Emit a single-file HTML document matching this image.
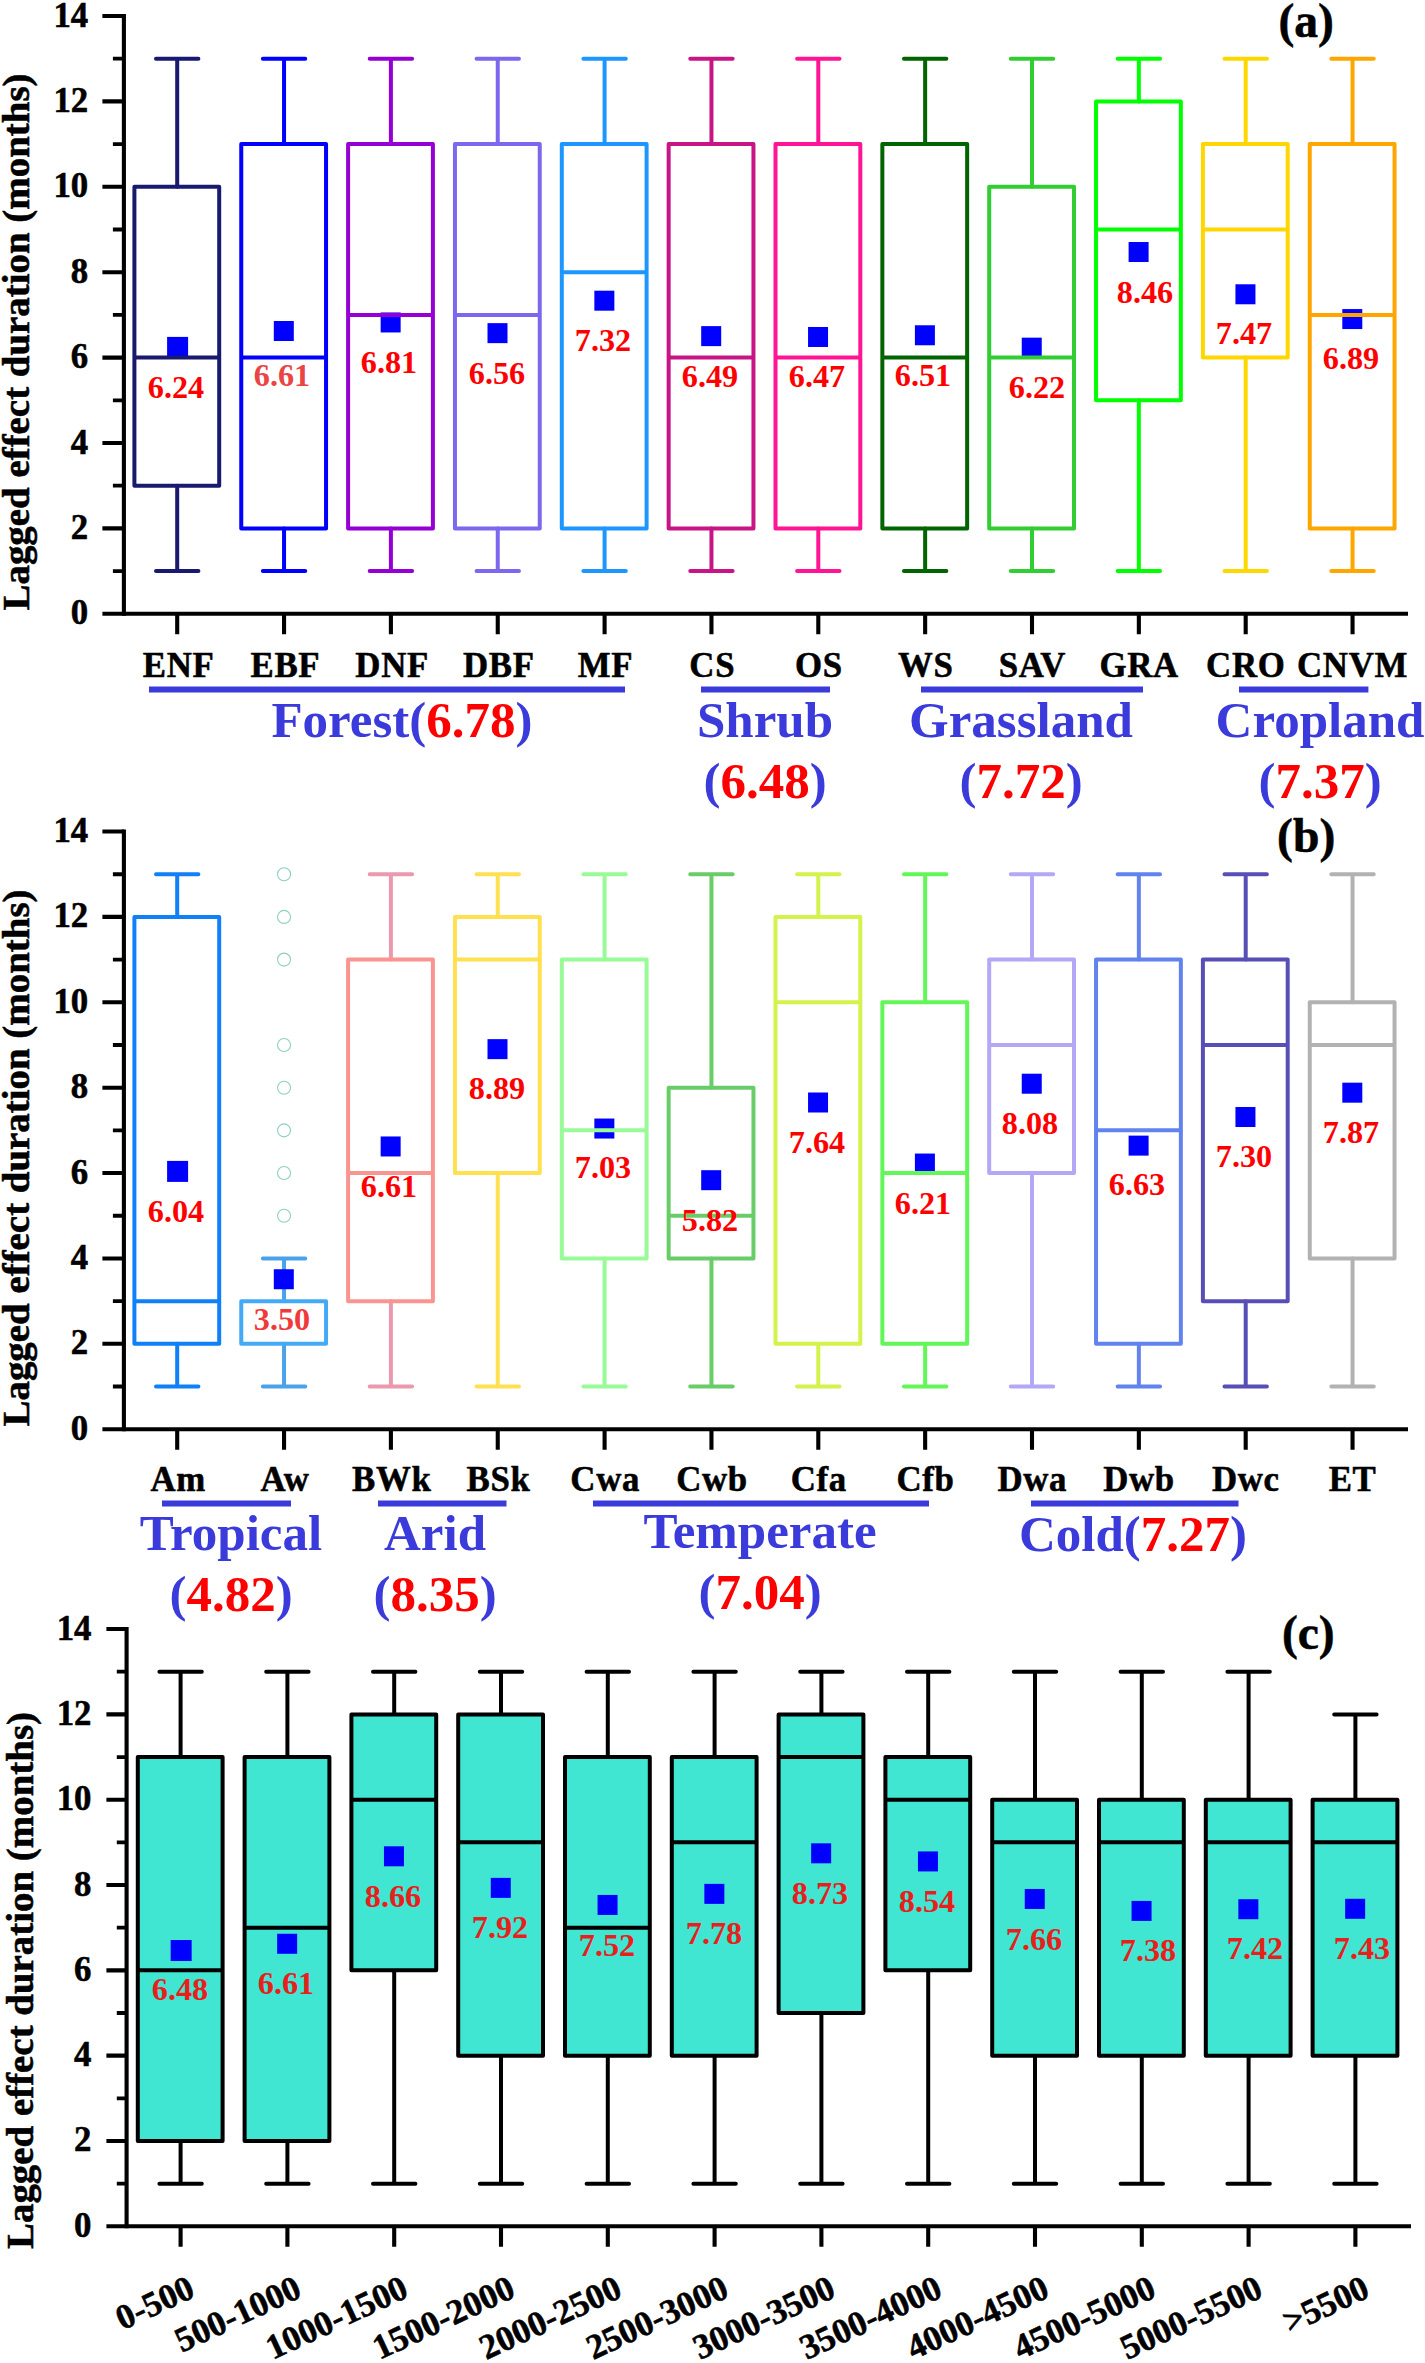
<!DOCTYPE html>
<html lang="en">
<head>
<meta charset="utf-8">
<title>Lagged effect duration</title>
<style>
html,body{margin:0;padding:0;background:#fff;}
body{width:1425px;height:2363px;overflow:hidden;}
svg{display:block;}
svg text{stroke-width:0.55px;stroke-linejoin:round;paint-order:stroke fill;}
</style>
</head>
<body>
<svg width="1425" height="2363" viewBox="0 0 1425 2363" font-family='"Liberation Serif", serif' font-weight="bold">
<rect width="1425" height="2363" fill="#fff"/>
<g stroke="#191970" stroke-width="4" fill="none" stroke-linecap="round" stroke-linejoin="round">
<path d="M177.2 58.7 V186.8 M177.2 485.7 V571.1 M156 58.7 H198.4 M156 571.1 H198.4"/>
<rect x="134.4" y="186.8" width="84.8" height="298.9" fill="none"/>
</g>
<g stroke="#0000ff" stroke-width="4" fill="none" stroke-linecap="round" stroke-linejoin="round">
<path d="M284.05 58.7 V144.1 M284.05 528.4 V571.1 M262.85 58.7 H305.25 M262.85 571.1 H305.25"/>
<rect x="241.25" y="144.1" width="84.8" height="384.3" fill="none"/>
</g>
<g stroke="#9400d3" stroke-width="4" fill="none" stroke-linecap="round" stroke-linejoin="round">
<path d="M390.9 58.7 V144.1 M390.9 528.4 V571.1 M369.7 58.7 H412.1 M369.7 571.1 H412.1"/>
<rect x="348.1" y="144.1" width="84.8" height="384.3" fill="none"/>
</g>
<g stroke="#7b68ee" stroke-width="4" fill="none" stroke-linecap="round" stroke-linejoin="round">
<path d="M497.75 58.7 V144.1 M497.75 528.4 V571.1 M476.55 58.7 H518.95 M476.55 571.1 H518.95"/>
<rect x="454.95" y="144.1" width="84.8" height="384.3" fill="none"/>
</g>
<g stroke="#1e96ff" stroke-width="4" fill="none" stroke-linecap="round" stroke-linejoin="round">
<path d="M604.6 58.7 V144.1 M604.6 528.4 V571.1 M583.4 58.7 H625.8 M583.4 571.1 H625.8"/>
<rect x="561.8" y="144.1" width="84.8" height="384.3" fill="none"/>
</g>
<g stroke="#c71585" stroke-width="4" fill="none" stroke-linecap="round" stroke-linejoin="round">
<path d="M711.45 58.7 V144.1 M711.45 528.4 V571.1 M690.25 58.7 H732.65 M690.25 571.1 H732.65"/>
<rect x="668.65" y="144.1" width="84.8" height="384.3" fill="none"/>
</g>
<g stroke="#ff1493" stroke-width="4" fill="none" stroke-linecap="round" stroke-linejoin="round">
<path d="M818.3 58.7 V144.1 M818.3 528.4 V571.1 M797.1 58.7 H839.5 M797.1 571.1 H839.5"/>
<rect x="775.5" y="144.1" width="84.8" height="384.3" fill="none"/>
</g>
<g stroke="#006400" stroke-width="4" fill="none" stroke-linecap="round" stroke-linejoin="round">
<path d="M925.15 58.7 V144.1 M925.15 528.4 V571.1 M903.95 58.7 H946.35 M903.95 571.1 H946.35"/>
<rect x="882.35" y="144.1" width="84.8" height="384.3" fill="none"/>
</g>
<g stroke="#32cd32" stroke-width="4" fill="none" stroke-linecap="round" stroke-linejoin="round">
<path d="M1032 58.7 V186.8 M1032 528.4 V571.1 M1010.8 58.7 H1053.2 M1010.8 571.1 H1053.2"/>
<rect x="989.2" y="186.8" width="84.8" height="341.6" fill="none"/>
</g>
<g stroke="#00ff00" stroke-width="4" fill="none" stroke-linecap="round" stroke-linejoin="round">
<path d="M1138.85 58.7 V101.4 M1138.85 400.3 V571.1 M1117.65 58.7 H1160.05 M1117.65 571.1 H1160.05"/>
<rect x="1096.05" y="101.4" width="84.8" height="298.9" fill="none"/>
</g>
<g stroke="#ffd700" stroke-width="4" fill="none" stroke-linecap="round" stroke-linejoin="round">
<path d="M1245.7 58.7 V144.1 M1245.7 357.6 V571.1 M1224.5 58.7 H1266.9 M1224.5 571.1 H1266.9"/>
<rect x="1202.9" y="144.1" width="84.8" height="213.5" fill="none"/>
</g>
<g stroke="#ffa500" stroke-width="4" fill="none" stroke-linecap="round" stroke-linejoin="round">
<path d="M1352.55 58.7 V144.1 M1352.55 528.4 V571.1 M1331.35 58.7 H1373.75 M1331.35 571.1 H1373.75"/>
<rect x="1309.75" y="144.1" width="84.8" height="384.3" fill="none"/>
</g>
<rect x="167.1" y="336.9" width="21" height="21" fill="#0000ff"/>
<path d="M134.4 357.6 H219.2" stroke="#191970" stroke-width="4" fill="none"/>
<text x="176" y="398.3" font-size="32.2" text-anchor="middle" fill="#ff0000">6.24</text>
<rect x="273.8" y="321" width="20" height="20" fill="#0000ff"/>
<path d="M241.25 357.6 H326.05" stroke="#0000ff" stroke-width="4" fill="none"/>
<text x="282" y="386.3" font-size="32.2" text-anchor="middle" fill="#ea4444">6.61</text>
<rect x="380.65" y="312.46" width="20" height="20" fill="#0000ff"/>
<path d="M348.1 314.9 H432.9" stroke="#9400d3" stroke-width="4" fill="none"/>
<text x="389" y="373.3" font-size="32.2" text-anchor="middle" fill="#ff0000">6.81</text>
<rect x="487.5" y="323.14" width="20" height="20" fill="#0000ff"/>
<path d="M454.95 314.9 H539.75" stroke="#7b68ee" stroke-width="4" fill="none"/>
<text x="497" y="384.3" font-size="32.2" text-anchor="middle" fill="#ff0000">6.56</text>
<rect x="594.35" y="290.69" width="20" height="20" fill="#0000ff"/>
<path d="M561.8 272.2 H646.6" stroke="#1e96ff" stroke-width="4" fill="none"/>
<text x="603" y="351.3" font-size="32.2" text-anchor="middle" fill="#ff0000">7.32</text>
<rect x="701.2" y="326.13" width="20" height="20" fill="#0000ff"/>
<path d="M668.65 357.6 H753.45" stroke="#c71585" stroke-width="4" fill="none"/>
<text x="710" y="387.3" font-size="32.2" text-anchor="middle" fill="#ff0000">6.49</text>
<rect x="808.05" y="326.98" width="20" height="20" fill="#0000ff"/>
<path d="M775.5 357.6 H860.3" stroke="#ff1493" stroke-width="4" fill="none"/>
<text x="817" y="387.3" font-size="32.2" text-anchor="middle" fill="#ff0000">6.47</text>
<rect x="914.9" y="325.27" width="20" height="20" fill="#0000ff"/>
<path d="M882.35 357.6 H967.15" stroke="#006400" stroke-width="4" fill="none"/>
<text x="923" y="386.3" font-size="32.2" text-anchor="middle" fill="#ff0000">6.51</text>
<rect x="1021.75" y="337.66" width="20" height="20" fill="#0000ff"/>
<path d="M989.2 357.6 H1074" stroke="#32cd32" stroke-width="4" fill="none"/>
<text x="1037" y="398.3" font-size="32.2" text-anchor="middle" fill="#ff0000">6.22</text>
<rect x="1128.6" y="242.01" width="20" height="20" fill="#0000ff"/>
<path d="M1096.05 229.5 H1180.85" stroke="#00ff00" stroke-width="4" fill="none"/>
<text x="1145" y="303.3" font-size="32.2" text-anchor="middle" fill="#ff0000">8.46</text>
<rect x="1235.45" y="284.28" width="20" height="20" fill="#0000ff"/>
<path d="M1202.9 229.5 H1287.7" stroke="#ffd700" stroke-width="4" fill="none"/>
<text x="1244" y="344.3" font-size="32.2" text-anchor="middle" fill="#ff0000">7.47</text>
<rect x="1342.3" y="309.05" width="20" height="20" fill="#0000ff"/>
<path d="M1309.75 314.9 H1394.55" stroke="#ffa500" stroke-width="4" fill="none"/>
<text x="1351" y="369.3" font-size="32.2" text-anchor="middle" fill="#ff0000">6.89</text>
<g stroke="#000" stroke-width="4.1" fill="none" stroke-linecap="butt">
<path d="M123.9 13.95 V615.85"/>
<path d="M102.4 613.8 H1408"/>
<path d="M102.4 528.4 H123.9 M102.4 443 H123.9 M102.4 357.6 H123.9 M102.4 272.2 H123.9 M102.4 186.8 H123.9 M102.4 101.4 H123.9 M102.4 16 H123.9"/>
<path d="M177.2 613.8 V634.3 M284.05 613.8 V634.3 M390.9 613.8 V634.3 M497.75 613.8 V634.3 M604.6 613.8 V634.3 M711.45 613.8 V634.3 M818.3 613.8 V634.3 M925.15 613.8 V634.3 M1032 613.8 V634.3 M1138.85 613.8 V634.3 M1245.7 613.8 V634.3 M1352.55 613.8 V634.3"/>
<path stroke-width="3.8" d="M112.9 571.1 H123.9 M112.9 485.7 H123.9 M112.9 400.3 H123.9 M112.9 314.9 H123.9 M112.9 229.5 H123.9 M112.9 144.1 H123.9 M112.9 58.7 H123.9"/>
</g>
<g font-size="34.8" text-anchor="end" fill="#000" stroke="#000">
<text x="88.2" y="624.3">0</text>
<text x="88.2" y="538.9">2</text>
<text x="88.2" y="453.5">4</text>
<text x="88.2" y="368.1">6</text>
<text x="88.2" y="282.7">8</text>
<text x="88.2" y="197.3">10</text>
<text x="88.2" y="111.9">12</text>
<text x="88.2" y="26.5">14</text>
</g>
<text transform="translate(29.3 342) rotate(-90)" font-size="38" text-anchor="middle" textLength="537" lengthAdjust="spacingAndGlyphs" fill="#000" stroke="#000">Lagged effect duration (months)</text>
<text x="1306.2" y="36.5" font-size="47.6" text-anchor="middle" fill="#000" stroke="#000">(a)</text>
<g font-size="34.8" text-anchor="middle" fill="#000" stroke="#000" letter-spacing="0.7">
<text x="178.7" y="676.7">ENF</text>
<text x="285.41" y="676.7">EBF</text>
<text x="392.13" y="676.7">DNF</text>
<text x="498.84" y="676.7">DBF</text>
<text x="605.55" y="676.7">MF</text>
<text x="712.27" y="676.7">CS</text>
<text x="818.98" y="676.7">OS</text>
<text x="925.7" y="676.7">WS</text>
<text x="1032.41" y="676.7">SAV</text>
<text x="1139.12" y="676.7">GRA</text>
<text x="1245.84" y="676.7">CRO</text>
<text x="1352.55" y="676.7">CNVM</text>
</g>
<path d="M149 689.6 H625" stroke="#3b3bdc" stroke-width="6" fill="none"/>
<text x="402" y="736.6" font-size="51" text-anchor="middle" fill="#3b3bdc">Forest(<tspan fill="#ff0000">6.78</tspan>)</text>
<path d="M701 689.6 H830" stroke="#3b3bdc" stroke-width="6" fill="none"/>
<text x="765" y="736.9" font-size="51" text-anchor="middle" fill="#3b3bdc">Shrub</text>
<text x="765" y="797.6" font-size="51" text-anchor="middle" fill="#3b3bdc">(<tspan fill="#ff0000">6.48</tspan>)</text>
<path d="M921 689.6 H1143" stroke="#3b3bdc" stroke-width="6" fill="none"/>
<text x="1021" y="736.9" font-size="51" text-anchor="middle" fill="#3b3bdc">Grassland</text>
<text x="1021" y="797.6" font-size="51" text-anchor="middle" fill="#3b3bdc">(<tspan fill="#ff0000">7.72</tspan>)</text>
<path d="M1239 689.6 H1368.4" stroke="#3b3bdc" stroke-width="6" fill="none"/>
<text x="1320" y="736.9" font-size="51" text-anchor="middle" fill="#3b3bdc">Cropland</text>
<text x="1320" y="797.6" font-size="51" text-anchor="middle" fill="#3b3bdc">(<tspan fill="#ff0000">7.37</tspan>)</text>
<g stroke="#1080f8" stroke-width="4" fill="none" stroke-linecap="round" stroke-linejoin="round">
<path d="M177.2 874.23 V916.92 M177.2 1343.82 V1386.51 M156 874.23 H198.4 M156 1386.51 H198.4"/>
<rect x="134.4" y="916.92" width="84.8" height="426.9" fill="none"/>
</g>
<g stroke="#44aaf8" stroke-width="4" fill="none" stroke-linecap="round" stroke-linejoin="round">
<path stroke="#4aa2ea" d="M284.05 1258.44 V1301.13 M284.05 1343.82 V1386.51 M262.85 1258.44 H305.25 M262.85 1386.51 H305.25"/>
<rect x="241.25" y="1301.13" width="84.8" height="42.69" fill="none"/>
</g>
<g stroke="#fa9490" stroke-width="4" fill="none" stroke-linecap="round" stroke-linejoin="round">
<path stroke="#ec98ae" d="M390.9 874.23 V959.61 M390.9 1301.13 V1386.51 M369.7 874.23 H412.1 M369.7 1386.51 H412.1"/>
<rect x="348.1" y="959.61" width="84.8" height="341.52" fill="none"/>
</g>
<g stroke="#ffe050" stroke-width="4" fill="none" stroke-linecap="round" stroke-linejoin="round">
<path d="M497.75 874.23 V916.92 M497.75 1173.06 V1386.51 M476.55 874.23 H518.95 M476.55 1386.51 H518.95"/>
<rect x="454.95" y="916.92" width="84.8" height="256.14" fill="none"/>
</g>
<g stroke="#98fb98" stroke-width="4" fill="none" stroke-linecap="round" stroke-linejoin="round">
<path d="M604.6 874.23 V959.61 M604.6 1258.44 V1386.51 M583.4 874.23 H625.8 M583.4 1386.51 H625.8"/>
<rect x="561.8" y="959.61" width="84.8" height="298.83" fill="none"/>
</g>
<g stroke="#68cc68" stroke-width="4" fill="none" stroke-linecap="round" stroke-linejoin="round">
<path d="M711.45 874.23 V1087.68 M711.45 1258.44 V1386.51 M690.25 874.23 H732.65 M690.25 1386.51 H732.65"/>
<rect x="668.65" y="1087.68" width="84.8" height="170.76" fill="none"/>
</g>
<g stroke="#d4f24c" stroke-width="4" fill="none" stroke-linecap="round" stroke-linejoin="round">
<path d="M818.3 874.23 V916.92 M818.3 1343.82 V1386.51 M797.1 874.23 H839.5 M797.1 1386.51 H839.5"/>
<rect x="775.5" y="916.92" width="84.8" height="426.9" fill="none"/>
</g>
<g stroke="#62f658" stroke-width="4" fill="none" stroke-linecap="round" stroke-linejoin="round">
<path d="M925.15 874.23 V1002.3 M925.15 1343.82 V1386.51 M903.95 874.23 H946.35 M903.95 1386.51 H946.35"/>
<rect x="882.35" y="1002.3" width="84.8" height="341.52" fill="none"/>
</g>
<g stroke="#b2a8f6" stroke-width="4" fill="none" stroke-linecap="round" stroke-linejoin="round">
<path d="M1032 874.23 V959.61 M1032 1173.06 V1386.51 M1010.8 874.23 H1053.2 M1010.8 1386.51 H1053.2"/>
<rect x="989.2" y="959.61" width="84.8" height="213.45" fill="none"/>
</g>
<g stroke="#6282ee" stroke-width="4" fill="none" stroke-linecap="round" stroke-linejoin="round">
<path d="M1138.85 874.23 V959.61 M1138.85 1343.82 V1386.51 M1117.65 874.23 H1160.05 M1117.65 1386.51 H1160.05"/>
<rect x="1096.05" y="959.61" width="84.8" height="384.21" fill="none"/>
</g>
<g stroke="#584fb6" stroke-width="4" fill="none" stroke-linecap="round" stroke-linejoin="round">
<path d="M1245.7 874.23 V959.61 M1245.7 1301.13 V1386.51 M1224.5 874.23 H1266.9 M1224.5 1386.51 H1266.9"/>
<rect x="1202.9" y="959.61" width="84.8" height="341.52" fill="none"/>
</g>
<g stroke="#b2b2b2" stroke-width="4" fill="none" stroke-linecap="round" stroke-linejoin="round">
<path d="M1352.55 874.23 V1002.3 M1352.55 1258.44 V1386.51 M1331.35 874.23 H1373.75 M1331.35 1386.51 H1373.75"/>
<rect x="1309.75" y="1002.3" width="84.8" height="256.14" fill="none"/>
</g>
<g stroke="#8ccfc0" stroke-width="1.1" fill="none">
<circle cx="284.05" cy="1215.75" r="6.5"/>
<circle cx="284.05" cy="1173.06" r="6.5"/>
<circle cx="284.05" cy="1130.37" r="6.5"/>
<circle cx="284.05" cy="1087.68" r="6.5"/>
<circle cx="284.05" cy="1044.99" r="6.5"/>
<circle cx="284.05" cy="959.61" r="6.5"/>
<circle cx="284.05" cy="916.92" r="6.5"/>
<circle cx="284.05" cy="874.23" r="6.5"/>
</g>
<rect x="167.1" y="1160.9" width="21" height="21" fill="#0000ff"/>
<path d="M134.4 1301.13 H219.2" stroke="#1080f8" stroke-width="4" fill="none"/>
<text x="176" y="1222.3" font-size="32.2" text-anchor="middle" fill="#ff0000">6.04</text>
<rect x="273.8" y="1269.24" width="20" height="20" fill="#0000ff"/>
<text x="282" y="1330.3" font-size="32.2" text-anchor="middle" fill="#f03a3a">3.50</text>
<rect x="380.65" y="1136.47" width="20" height="20" fill="#0000ff"/>
<path d="M348.1 1173.06 H432.9" stroke="#fa9490" stroke-width="4" fill="none"/>
<text x="389" y="1197.3" font-size="32.2" text-anchor="middle" fill="#ff0000">6.61</text>
<rect x="487.5" y="1039.14" width="20" height="20" fill="#0000ff"/>
<path d="M454.95 959.61 H539.75" stroke="#ffe050" stroke-width="4" fill="none"/>
<text x="497" y="1099.3" font-size="32.2" text-anchor="middle" fill="#ff0000">8.89</text>
<rect x="594.35" y="1118.54" width="20" height="20" fill="#0000ff"/>
<path d="M561.8 1130.37 H646.6" stroke="#98fb98" stroke-width="4" fill="none"/>
<text x="603" y="1178.3" font-size="32.2" text-anchor="middle" fill="#ff0000">7.03</text>
<rect x="701.2" y="1170.19" width="20" height="20" fill="#0000ff"/>
<path d="M668.65 1215.75 H753.45" stroke="#68cc68" stroke-width="4" fill="none"/>
<text x="710" y="1231.3" font-size="32.2" text-anchor="middle" fill="#ff0000">5.82</text>
<rect x="808.05" y="1092.5" width="20" height="20" fill="#0000ff"/>
<path d="M775.5 1002.3 H860.3" stroke="#d4f24c" stroke-width="4" fill="none"/>
<text x="817" y="1153.3" font-size="32.2" text-anchor="middle" fill="#ff0000">7.64</text>
<rect x="914.9" y="1153.55" width="20" height="20" fill="#0000ff"/>
<path d="M882.35 1173.06 H967.15" stroke="#62f658" stroke-width="4" fill="none"/>
<text x="923" y="1214.3" font-size="32.2" text-anchor="middle" fill="#ff0000">6.21</text>
<rect x="1021.75" y="1073.71" width="20" height="20" fill="#0000ff"/>
<path d="M989.2 1044.99 H1074" stroke="#b2a8f6" stroke-width="4" fill="none"/>
<text x="1030" y="1134.3" font-size="32.2" text-anchor="middle" fill="#ff0000">8.08</text>
<rect x="1128.6" y="1135.62" width="20" height="20" fill="#0000ff"/>
<path d="M1096.05 1130.37 H1180.85" stroke="#6282ee" stroke-width="4" fill="none"/>
<text x="1137" y="1195.3" font-size="32.2" text-anchor="middle" fill="#ff0000">6.63</text>
<rect x="1235.45" y="1107.01" width="20" height="20" fill="#0000ff"/>
<path d="M1202.9 1044.99 H1287.7" stroke="#584fb6" stroke-width="4" fill="none"/>
<text x="1244" y="1167.3" font-size="32.2" text-anchor="middle" fill="#ff0000">7.30</text>
<rect x="1342.3" y="1082.68" width="20" height="20" fill="#0000ff"/>
<path d="M1309.75 1044.99 H1394.55" stroke="#b2b2b2" stroke-width="4" fill="none"/>
<text x="1351" y="1143.3" font-size="32.2" text-anchor="middle" fill="#ff0000">7.87</text>
<g stroke="#000" stroke-width="4.1" fill="none" stroke-linecap="butt">
<path d="M123.9 829.49 V1431.25"/>
<path d="M102.4 1429.2 H1408"/>
<path d="M102.4 1343.82 H123.9 M102.4 1258.44 H123.9 M102.4 1173.06 H123.9 M102.4 1087.68 H123.9 M102.4 1002.3 H123.9 M102.4 916.92 H123.9 M102.4 831.54 H123.9"/>
<path d="M177.2 1429.2 V1449.7 M284.05 1429.2 V1449.7 M390.9 1429.2 V1449.7 M497.75 1429.2 V1449.7 M604.6 1429.2 V1449.7 M711.45 1429.2 V1449.7 M818.3 1429.2 V1449.7 M925.15 1429.2 V1449.7 M1032 1429.2 V1449.7 M1138.85 1429.2 V1449.7 M1245.7 1429.2 V1449.7 M1352.55 1429.2 V1449.7"/>
<path stroke-width="3.8" d="M112.9 1386.51 H123.9 M112.9 1301.13 H123.9 M112.9 1215.75 H123.9 M112.9 1130.37 H123.9 M112.9 1044.99 H123.9 M112.9 959.61 H123.9 M112.9 874.23 H123.9"/>
</g>
<g font-size="34.8" text-anchor="end" fill="#000" stroke="#000">
<text x="88.2" y="1439.7">0</text>
<text x="88.2" y="1354.32">2</text>
<text x="88.2" y="1268.94">4</text>
<text x="88.2" y="1183.56">6</text>
<text x="88.2" y="1098.18">8</text>
<text x="88.2" y="1012.8">10</text>
<text x="88.2" y="927.42">12</text>
<text x="88.2" y="842.04">14</text>
</g>
<text transform="translate(29.3 1158) rotate(-90)" font-size="38" text-anchor="middle" textLength="537" lengthAdjust="spacingAndGlyphs" fill="#000" stroke="#000">Lagged effect duration (months)</text>
<text x="1306.2" y="852" font-size="47.6" text-anchor="middle" fill="#000" stroke="#000">(b)</text>
<g font-size="34.8" text-anchor="middle" fill="#000" stroke="#000" letter-spacing="0.7">
<text x="178.2" y="1491.4">Am</text>
<text x="284.96" y="1491.4">Aw</text>
<text x="391.72" y="1491.4">BWk</text>
<text x="498.48" y="1491.4">BSk</text>
<text x="605.24" y="1491.4">Cwa</text>
<text x="712" y="1491.4">Cwb</text>
<text x="818.75" y="1491.4">Cfa</text>
<text x="925.51" y="1491.4">Cfb</text>
<text x="1032.27" y="1491.4">Dwa</text>
<text x="1139.03" y="1491.4">Dwb</text>
<text x="1245.79" y="1491.4">Dwc</text>
<text x="1352.55" y="1491.4">ET</text>
</g>
<path d="M162 1503.4 H291" stroke="#3b3bdc" stroke-width="6" fill="none"/>
<text x="231" y="1549.6" font-size="51" text-anchor="middle" fill="#3b3bdc">Tropical</text>
<text x="231" y="1610.6" font-size="51" text-anchor="middle" fill="#3b3bdc">(<tspan fill="#ff0000">4.82</tspan>)</text>
<path d="M378 1503.4 H506.5" stroke="#3b3bdc" stroke-width="6" fill="none"/>
<text x="435" y="1549.6" font-size="51" text-anchor="middle" fill="#3b3bdc">Arid</text>
<text x="435" y="1610.6" font-size="51" text-anchor="middle" fill="#3b3bdc">(<tspan fill="#ff0000">8.35</tspan>)</text>
<path d="M593 1503.4 H929" stroke="#3b3bdc" stroke-width="6" fill="none"/>
<text x="760" y="1547.8" font-size="51" text-anchor="middle" fill="#3b3bdc">Temperate</text>
<text x="760" y="1609" font-size="51" text-anchor="middle" fill="#3b3bdc">(<tspan fill="#ff0000">7.04</tspan>)</text>
<path d="M1031 1503.4 H1238.5" stroke="#3b3bdc" stroke-width="6" fill="none"/>
<text x="1133" y="1550.6" font-size="51" text-anchor="middle" fill="#3b3bdc">Cold(<tspan fill="#ff0000">7.27</tspan>)</text>
<g stroke="#000" stroke-width="4" fill="none" stroke-linecap="round" stroke-linejoin="round">
<path d="M180.6 1671.72 V1757.04 M180.6 2140.98 V2183.64 M159.4 1671.72 H201.8 M159.4 2183.64 H201.8"/>
<rect x="137.8" y="1757.04" width="84.8" height="383.94" fill="#40e6d2"/>
</g>
<g stroke="#000" stroke-width="4" fill="none" stroke-linecap="round" stroke-linejoin="round">
<path d="M287.4 1671.72 V1757.04 M287.4 2140.98 V2183.64 M266.2 1671.72 H308.6 M266.2 2183.64 H308.6"/>
<rect x="244.6" y="1757.04" width="84.8" height="383.94" fill="#40e6d2"/>
</g>
<g stroke="#000" stroke-width="4" fill="none" stroke-linecap="round" stroke-linejoin="round">
<path d="M394.2 1671.72 V1714.38 M394.2 1970.34 V2183.64 M373 1671.72 H415.4 M373 2183.64 H415.4"/>
<rect x="351.4" y="1714.38" width="84.8" height="255.96" fill="#40e6d2"/>
</g>
<g stroke="#000" stroke-width="4" fill="none" stroke-linecap="round" stroke-linejoin="round">
<path d="M501 1671.72 V1714.38 M501 2055.66 V2183.64 M479.8 1671.72 H522.2 M479.8 2183.64 H522.2"/>
<rect x="458.2" y="1714.38" width="84.8" height="341.28" fill="#40e6d2"/>
</g>
<g stroke="#000" stroke-width="4" fill="none" stroke-linecap="round" stroke-linejoin="round">
<path d="M607.8 1671.72 V1757.04 M607.8 2055.66 V2183.64 M586.6 1671.72 H629 M586.6 2183.64 H629"/>
<rect x="565" y="1757.04" width="84.8" height="298.62" fill="#40e6d2"/>
</g>
<g stroke="#000" stroke-width="4" fill="none" stroke-linecap="round" stroke-linejoin="round">
<path d="M714.6 1671.72 V1757.04 M714.6 2055.66 V2183.64 M693.4 1671.72 H735.8 M693.4 2183.64 H735.8"/>
<rect x="671.8" y="1757.04" width="84.8" height="298.62" fill="#40e6d2"/>
</g>
<g stroke="#000" stroke-width="4" fill="none" stroke-linecap="round" stroke-linejoin="round">
<path d="M821.4 1671.72 V1714.38 M821.4 2013 V2183.64 M800.2 1671.72 H842.6 M800.2 2183.64 H842.6"/>
<rect x="778.6" y="1714.38" width="84.8" height="298.62" fill="#40e6d2"/>
</g>
<g stroke="#000" stroke-width="4" fill="none" stroke-linecap="round" stroke-linejoin="round">
<path d="M928.2 1671.72 V1757.04 M928.2 1970.34 V2183.64 M907 1671.72 H949.4 M907 2183.64 H949.4"/>
<rect x="885.4" y="1757.04" width="84.8" height="213.3" fill="#40e6d2"/>
</g>
<g stroke="#000" stroke-width="4" fill="none" stroke-linecap="round" stroke-linejoin="round">
<path d="M1035 1671.72 V1799.7 M1035 2055.66 V2183.64 M1013.8 1671.72 H1056.2 M1013.8 2183.64 H1056.2"/>
<rect x="992.2" y="1799.7" width="84.8" height="255.96" fill="#40e6d2"/>
</g>
<g stroke="#000" stroke-width="4" fill="none" stroke-linecap="round" stroke-linejoin="round">
<path d="M1141.8 1671.72 V1799.7 M1141.8 2055.66 V2183.64 M1120.6 1671.72 H1163 M1120.6 2183.64 H1163"/>
<rect x="1099" y="1799.7" width="84.8" height="255.96" fill="#40e6d2"/>
</g>
<g stroke="#000" stroke-width="4" fill="none" stroke-linecap="round" stroke-linejoin="round">
<path d="M1248.6 1671.72 V1799.7 M1248.6 2055.66 V2183.64 M1227.4 1671.72 H1269.8 M1227.4 2183.64 H1269.8"/>
<rect x="1205.8" y="1799.7" width="84.8" height="255.96" fill="#40e6d2"/>
</g>
<g stroke="#000" stroke-width="4" fill="none" stroke-linecap="round" stroke-linejoin="round">
<path d="M1355.4 1714.38 V1799.7 M1355.4 2055.66 V2183.64 M1334.2 1714.38 H1376.6 M1334.2 2183.64 H1376.6"/>
<rect x="1312.6" y="1799.7" width="84.8" height="255.96" fill="#40e6d2"/>
</g>
<rect x="170.65" y="1940.01" width="21" height="21" fill="#0000ff"/>
<path d="M137.8 1970.34 H222.6" stroke="#000" stroke-width="4" fill="none"/>
<text x="180" y="2000.3" font-size="32.2" text-anchor="middle" fill="#e8201c">6.48</text>
<rect x="277.15" y="1933.77" width="20" height="20" fill="#0000ff"/>
<path d="M244.6 1927.68 H329.4" stroke="#000" stroke-width="4" fill="none"/>
<text x="286" y="1994.3" font-size="32.2" text-anchor="middle" fill="#e8201c">6.61</text>
<rect x="383.95" y="1846.31" width="20" height="20" fill="#0000ff"/>
<path d="M351.4 1799.7 H436.2" stroke="#000" stroke-width="4" fill="none"/>
<text x="393" y="1907.3" font-size="32.2" text-anchor="middle" fill="#e8201c">8.66</text>
<rect x="490.75" y="1877.88" width="20" height="20" fill="#0000ff"/>
<path d="M458.2 1842.36 H543" stroke="#000" stroke-width="4" fill="none"/>
<text x="500" y="1938.3" font-size="32.2" text-anchor="middle" fill="#e8201c">7.92</text>
<rect x="597.55" y="1894.95" width="20" height="20" fill="#0000ff"/>
<path d="M565 1927.68 H649.8" stroke="#000" stroke-width="4" fill="none"/>
<text x="607" y="1956.3" font-size="32.2" text-anchor="middle" fill="#e8201c">7.52</text>
<rect x="704.35" y="1883.86" width="20" height="20" fill="#0000ff"/>
<path d="M671.8 1842.36 H756.6" stroke="#000" stroke-width="4" fill="none"/>
<text x="714" y="1944.3" font-size="32.2" text-anchor="middle" fill="#e8201c">7.78</text>
<rect x="811.15" y="1843.33" width="20" height="20" fill="#0000ff"/>
<path d="M778.6 1757.04 H863.4" stroke="#000" stroke-width="4" fill="none"/>
<text x="820" y="1904.3" font-size="32.2" text-anchor="middle" fill="#e8201c">8.73</text>
<rect x="917.95" y="1851.43" width="20" height="20" fill="#0000ff"/>
<path d="M885.4 1799.7 H970.2" stroke="#000" stroke-width="4" fill="none"/>
<text x="927" y="1912.3" font-size="32.2" text-anchor="middle" fill="#e8201c">8.54</text>
<rect x="1024.75" y="1888.97" width="20" height="20" fill="#0000ff"/>
<path d="M992.2 1842.36 H1077" stroke="#000" stroke-width="4" fill="none"/>
<text x="1034" y="1950.3" font-size="32.2" text-anchor="middle" fill="#e8201c">7.66</text>
<rect x="1131.55" y="1900.92" width="20" height="20" fill="#0000ff"/>
<path d="M1099 1842.36 H1183.8" stroke="#000" stroke-width="4" fill="none"/>
<text x="1148" y="1961.3" font-size="32.2" text-anchor="middle" fill="#e8201c">7.38</text>
<rect x="1238.35" y="1899.21" width="20" height="20" fill="#0000ff"/>
<path d="M1205.8 1842.36 H1290.6" stroke="#000" stroke-width="4" fill="none"/>
<text x="1255" y="1959.3" font-size="32.2" text-anchor="middle" fill="#e8201c">7.42</text>
<rect x="1345.15" y="1898.79" width="20" height="20" fill="#0000ff"/>
<path d="M1312.6 1842.36 H1397.4" stroke="#000" stroke-width="4" fill="none"/>
<text x="1362" y="1959.3" font-size="32.2" text-anchor="middle" fill="#e8201c">7.43</text>
<g stroke="#000" stroke-width="4.1" fill="none" stroke-linecap="butt">
<path d="M126.6 1627.01 V2228.35"/>
<path d="M106.4 2226.3 H1411"/>
<path d="M106.4 2140.98 H126.6 M106.4 2055.66 H126.6 M106.4 1970.34 H126.6 M106.4 1885.02 H126.6 M106.4 1799.7 H126.6 M106.4 1714.38 H126.6 M106.4 1629.06 H126.6"/>
<path d="M180.6 2226.3 V2246.8 M287.4 2226.3 V2246.8 M394.2 2226.3 V2246.8 M501 2226.3 V2246.8 M607.8 2226.3 V2246.8 M714.6 2226.3 V2246.8 M821.4 2226.3 V2246.8 M928.2 2226.3 V2246.8 M1035 2226.3 V2246.8 M1141.8 2226.3 V2246.8 M1248.6 2226.3 V2246.8 M1355.4 2226.3 V2246.8"/>
<path stroke-width="3.8" d="M116.8 2183.64 H126.6 M116.8 2098.32 H126.6 M116.8 2013 H126.6 M116.8 1927.68 H126.6 M116.8 1842.36 H126.6 M116.8 1757.04 H126.6 M116.8 1671.72 H126.6"/>
</g>
<g font-size="34.8" text-anchor="end" fill="#000" stroke="#000">
<text x="91.5" y="2236.8">0</text>
<text x="91.5" y="2151.48">2</text>
<text x="91.5" y="2066.16">4</text>
<text x="91.5" y="1980.84">6</text>
<text x="91.5" y="1895.52">8</text>
<text x="91.5" y="1810.2">10</text>
<text x="91.5" y="1724.88">12</text>
<text x="91.5" y="1639.56">14</text>
</g>
<text transform="translate(32.8 1980.5) rotate(-90)" font-size="38" text-anchor="middle" textLength="537" lengthAdjust="spacingAndGlyphs" fill="#000" stroke="#000">Lagged effect duration (months)</text>
<text x="1308.3" y="1649.2" font-size="47.6" text-anchor="middle" fill="#000" stroke="#000">(c)</text>
<g font-size="35" text-anchor="end" fill="#000" stroke="#000">
<text transform="translate(196.6 2296) rotate(-25)" x="0" y="0">0-500</text>
<text transform="translate(303.4 2296) rotate(-25)" x="0" y="0">500-1000</text>
<text transform="translate(410.2 2296) rotate(-25)" x="0" y="0">1000-1500</text>
<text transform="translate(517 2296) rotate(-25)" x="0" y="0">1500-2000</text>
<text transform="translate(623.8 2296) rotate(-25)" x="0" y="0">2000-2500</text>
<text transform="translate(730.6 2296) rotate(-25)" x="0" y="0">2500-3000</text>
<text transform="translate(837.4 2296) rotate(-25)" x="0" y="0">3000-3500</text>
<text transform="translate(944.2 2296) rotate(-25)" x="0" y="0">3500-4000</text>
<text transform="translate(1051 2296) rotate(-25)" x="0" y="0">4000-4500</text>
<text transform="translate(1157.8 2296) rotate(-25)" x="0" y="0">4500-5000</text>
<text transform="translate(1264.6 2296) rotate(-25)" x="0" y="0">5000-5500</text>
<text transform="translate(1371.4 2296) rotate(-25)" x="0" y="0">&gt;5500</text>
</g>
</svg>
</body>
</html>
